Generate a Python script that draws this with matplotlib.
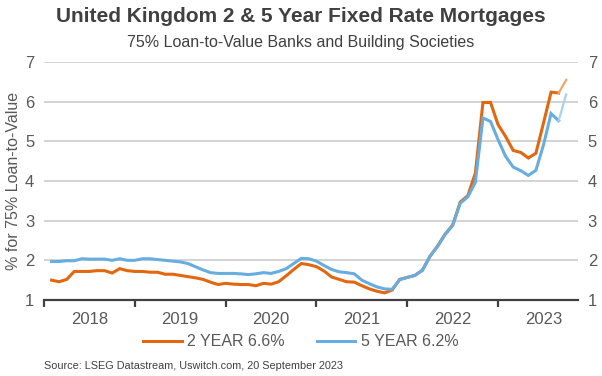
import matplotlib
matplotlib.use("Agg")
import matplotlib.pyplot as plt
from matplotlib.ticker import FixedLocator, NullFormatter
from matplotlib.lines import Line2D
import numpy as np

plt.rcParams['font.family'] = ['Liberation Sans', 'DejaVu Sans']

# Monthly data, Jan 2018 .. Sep 2023 (plotted at month end)
start_year = 2018
two_year = [1.50, 1.46, 1.52, 1.72, 1.72, 1.72, 1.74, 1.74, 1.68, 1.79, 1.74, 1.72,
            1.72, 1.70, 1.70, 1.65, 1.65, 1.62, 1.59, 1.56, 1.52, 1.45, 1.39, 1.42,
            1.40, 1.39, 1.39, 1.36, 1.42, 1.40, 1.46, 1.61, 1.77, 1.92, 1.89, 1.84,
            1.73, 1.58, 1.52, 1.46, 1.45, 1.36, 1.28, 1.22, 1.18, 1.25, 1.52, 1.57,
            1.62, 1.75, 2.10, 2.36, 2.66, 2.89, 3.47, 3.63, 4.20, 5.98, 5.98, 5.42,
            5.12, 4.77, 4.72, 4.58, 4.70, 5.46, 6.24, 6.22, 6.55]
five_year = [1.97, 1.97, 1.99, 1.99, 2.04, 2.03, 2.03, 2.03, 2.00, 2.04, 2.00, 2.00,
             2.04, 2.04, 2.02, 2.00, 1.98, 1.96, 1.92, 1.84, 1.76, 1.69, 1.67, 1.67,
             1.67, 1.66, 1.64, 1.66, 1.69, 1.67, 1.72, 1.79, 1.92, 2.05, 2.04, 1.98,
             1.87, 1.77, 1.71, 1.69, 1.66, 1.50, 1.41, 1.33, 1.28, 1.27, 1.51, 1.57,
             1.62, 1.75, 2.10, 2.35, 2.65, 2.88, 3.44, 3.60, 3.97, 5.59, 5.50, 5.04,
             4.62, 4.35, 4.26, 4.14, 4.27, 4.91, 5.70, 5.52, 6.18]
years = [2018, 2019, 2020, 2021, 2022, 2023]
legend_labels = ["2 YEAR 6.6%", "5 YEAR 6.2%"]
yticks = [1, 2, 3, 4, 5, 6, 7]

x = start_year + (np.arange(len(two_year)) + 1) / 12.0

c_or = '#E2670F'
c_or_l = '#F2A56C'
c_bl = '#67ADE0'
c_bl_l = '#A9D1F0'
txt = '#595959'

fig = plt.figure(figsize=(6.02, 3.76), dpi=100)
ax = fig.add_axes([44/602, 1 - 300/376, (578-44)/602, (300-62)/376])

ax.set_ylim(1, 7)
ax.set_xlim(2018, 2023.88)

for v in yticks[1:]:
    ax.axhline(v, color='#D0D0D0', lw=1.3, zorder=1)

ax.plot(x[:-1], five_year[:-1], color=c_bl, lw=2.2, zorder=3, solid_joinstyle='miter')
ax.plot(x[:-1], two_year[:-1], color=c_or, lw=2.2, zorder=2, solid_joinstyle='miter')
ax.plot(x[-2:], five_year[-2:], color=c_bl_l, lw=1.6, zorder=3)
ax.plot(x[-2:], two_year[-2:], color=c_or_l, lw=1.6, zorder=2)

for s in ['top', 'right', 'left']:
    ax.spines[s].set_visible(False)
ax.spines['bottom'].set_color('#404040')
ax.spines['bottom'].set_linewidth(1.6)
ax.spines['bottom'].set_zorder(4)

ax.xaxis.set_major_locator(FixedLocator(years))
ax.xaxis.set_major_formatter(NullFormatter())
ax.xaxis.set_minor_locator(FixedLocator([y + 0.5 for y in years]))
ax.set_xticklabels([str(y) for y in years], minor=True)
ax.tick_params(axis='x', which='major', direction='out', length=5, width=1.6, color='#404040')
ax.tick_params(axis='x', which='minor', length=0, pad=9, labelsize=12, labelcolor=txt)

ax.set_yticks(yticks)
ax.tick_params(axis='y', which='both', length=0, labelsize=12, labelcolor=txt, pad=7,
               left=True, right=False, labelleft=True, labelright=False)
ax2 = ax.twinx()
ax2.set_ylim(1, 7)
ax2.set_yticks(yticks)
ax2.tick_params(axis='y', length=0, labelsize=12, labelcolor=txt, pad=7)
for s in ['top', 'right', 'left', 'bottom']:
    ax2.spines[s].set_visible(False)

ax.set_ylabel('% for 75% Loan-to-Value', fontsize=11.5, color=txt, labelpad=3)

fig.text(0.5, 1 - 17/376, 'United Kingdom 2 & 5 Year Fixed Rate Mortgages', ha='center', va='center',
         fontsize=15, fontweight='bold', color='#404040')
fig.text(0.5, 1 - 43/376, '75% Loan-to-Value Banks and Building Societies', ha='center', va='center',
         fontsize=11.5, color='#404040')

handles = [Line2D([0], [0], color=c_or, lw=2.2), Line2D([0], [0], color=c_bl, lw=2.2)]
fig.legend(handles, legend_labels, loc='center', bbox_to_anchor=(0.5, 1 - 342/376), ncol=2,
           frameon=False, fontsize=11.5, handlelength=2.4, columnspacing=2.0, handletextpad=0.35,
           labelcolor=txt)

fig.text(44/602, 1 - 366/376, 'Source: LSEG Datastream, Uswitch.com, 20 September 2023',
         ha='left', va='center', fontsize=7.8, color='#404040')

fig.savefig('out.png', dpi=100)
